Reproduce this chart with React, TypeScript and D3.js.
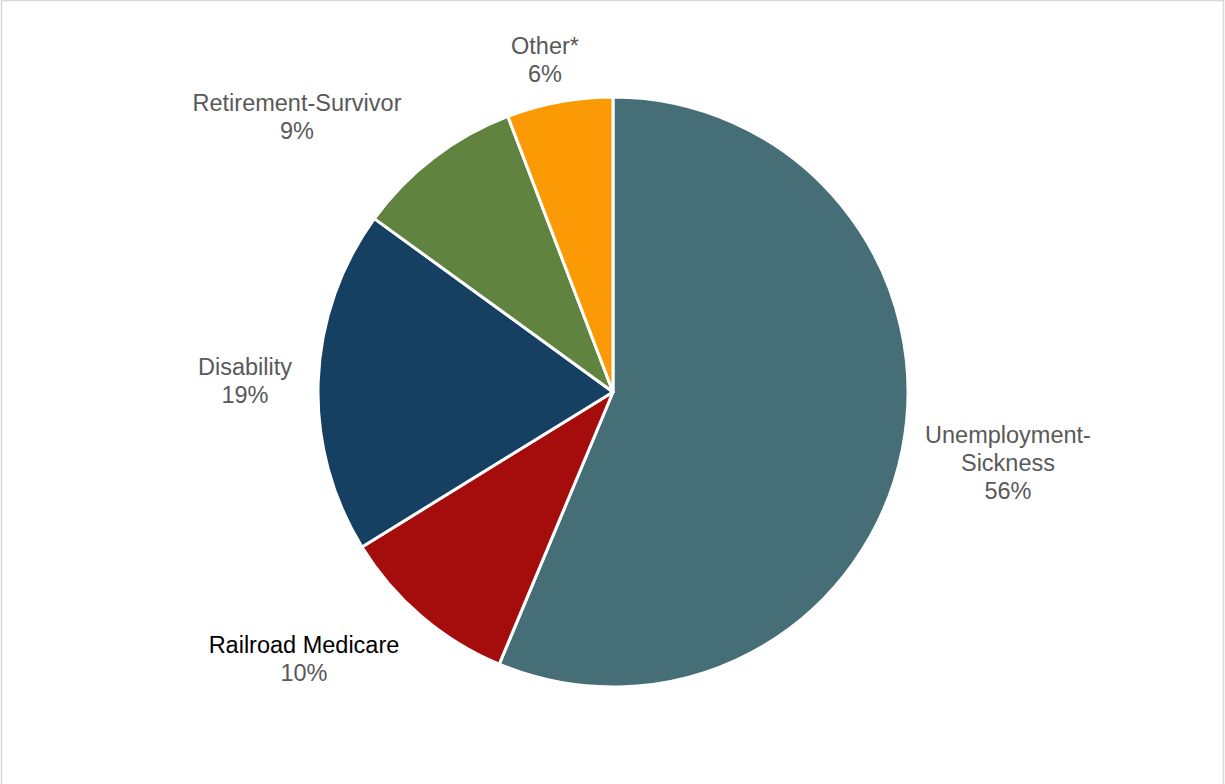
import React from "react";
import * as d3 from "d3";

const categories = ["Unemployment-Sickness", "Railroad Medicare", "Disability", "Retirement-Survivor", "Other*"];
const values = [56.3, 9.9, 18.8, 9.2, 5.8];
const percentLabels = ["56%", "10%", "19%", "9%", "6%"];
const labelLines = [["Unemployment-", "Sickness"], ["Railroad Medicare"], ["Disability"], ["Retirement-Survivor"], ["Other*"]];
const colors = ["#466e77", "#a50d0d", "#164062", "#608340", "#fb9a05"];
const titleColors = ["#595959", "#000000", "#595959", "#595959", "#595959"];
// label anchor positions (center x, first baseline y)
const labelPos = [
  [1008, 443],
  [304, 653],
  [245, 375],
  [297, 111],
  [545, 54],
];

export default function App() {
  const W = 1225, H = 784;
  const cx = 613, cy = 392, r = 295;
  const pie = d3.pie<number>().sort(null).value((d) => d)(values);
  const arc = d3.arc<d3.PieArcDatum<number>>().innerRadius(0).outerRadius(r);
  return (
    <svg width={W} height={H} style={{ position: "absolute", left: 0, top: 0, background: "#fff" }}>
      <rect x={1.5} y={0.5} width={1222} height={H + 5} fill="#fff" stroke="#d9d9d9" strokeWidth={1.5} />
      <g transform={`translate(${cx},${cy})`}>
        {pie.map((p, i) => (
          <path key={categories[i]} d={arc(p) || ""} fill={colors[i]} stroke="#fff" strokeWidth={3} strokeLinejoin="round" />
        ))}
      </g>
      {categories.map((c, i) => {
        const [x, y] = labelPos[i];
        const lines = labelLines[i];
        return (
          <text key={c} x={x} textAnchor="middle" fontFamily="Liberation Sans, Arial, sans-serif" fontSize={23.5}>
            {lines.map((l, j) => (
              <tspan key={j} x={x} y={y + j * 28} fill={titleColors[i]}>{l}</tspan>
            ))}
            <tspan x={x} y={y + lines.length * 28} fill="#595959">{percentLabels[i]}</tspan>
          </text>
        );
      })}
    </svg>
  );
}
